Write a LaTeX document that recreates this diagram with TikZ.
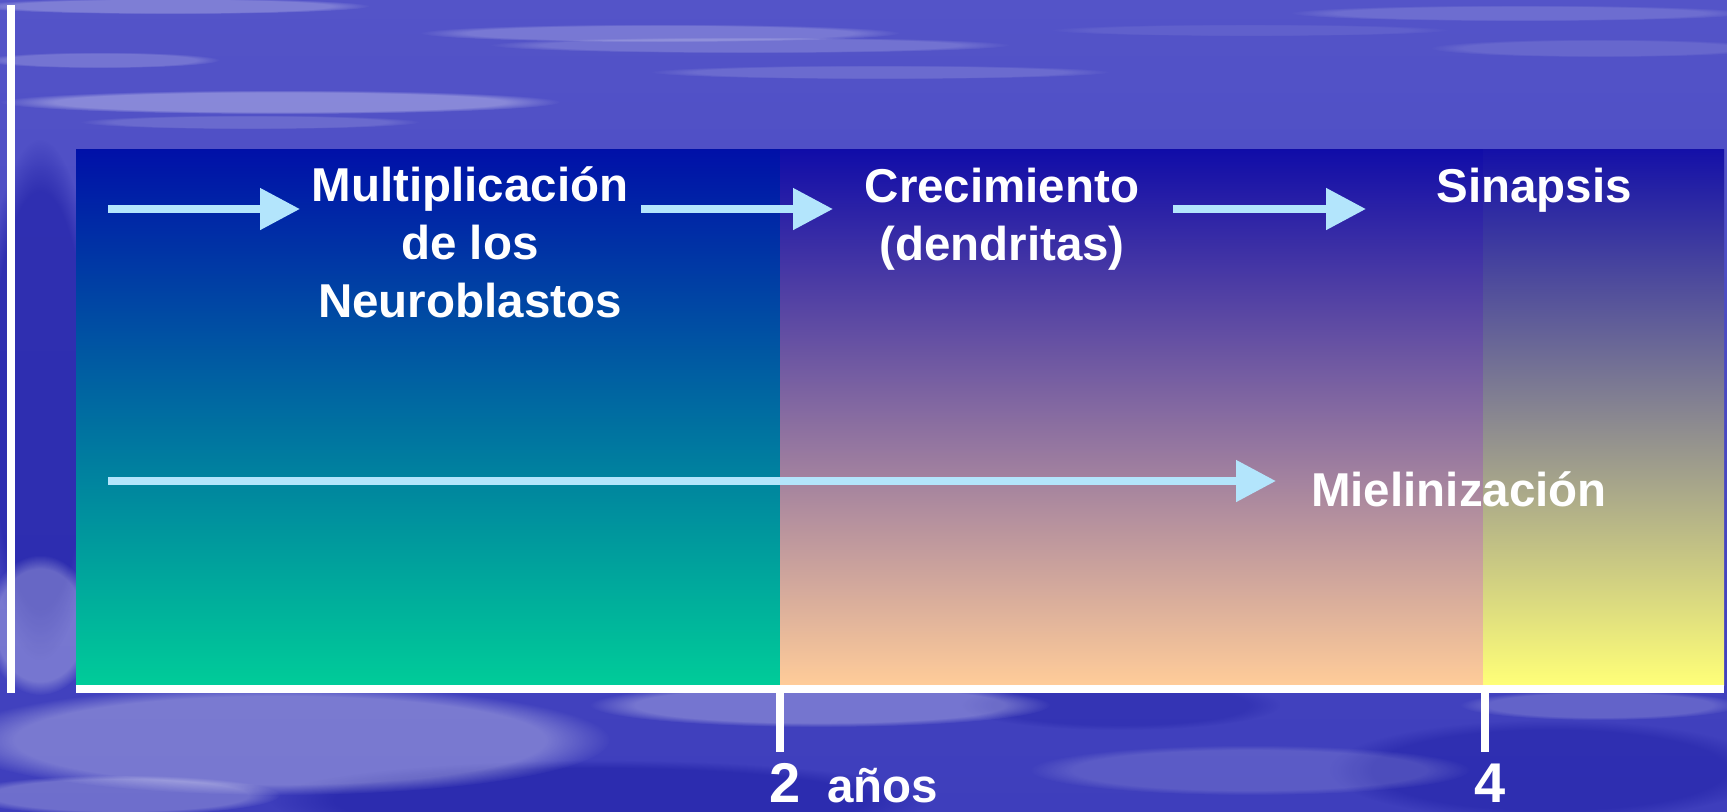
\documentclass[tikz,border=0pt]{standalone}
\usepackage{fontspec}
\setmainfont{Liberation Sans}
\usepackage{tikz}
\usetikzlibrary{calc,shapes,arrows.meta,fadings}

\definecolor{fondo}{RGB}{62,62,188}
\definecolor{fondoclaro}{RGB}{84,84,200}
\definecolor{fondooscuro}{RGB}{40,40,172}
\definecolor{celeste}{RGB}{179,229,252}

\tikzset{
  flecha/.style={draw=celeste, line width=4pt, -{Triangle[length=20pt,width=20pt]}},
  rotulo/.style={text=white, font=\bfseries\fontsize{23.75}{28.9}\selectfont, align=center, inner sep=0pt},
  cifra/.style={text=white, font=\bfseries\fontsize{28}{32}\selectfont, inner sep=0pt},
  linea/.style={draw=white, line width=4pt},
  nube/.style={fill=white, path fading=circle with fuzzy edge 20 percent},
  sombra/.style={fill=fondooscuro, path fading=circle with fuzzy edge 20 percent},
}

\begin{document}
\begin{tikzpicture}[x=0.5pt,y=-0.5pt]
        \useasboundingbox (0,0) rectangle (1727,811);
        % fondo
        \shade[top color=fondoclaro, middle color=fondo, bottom color=fondo] (0,0) rectangle (1727,811);
        \foreach \cx/\cy/\rx/\ry/\op in {40/400/60/260/0.8, 600/800/330/40/0.8, 1550/770/220/50/0.7,
            1120/705/160/25/0.5}
        \fill[sombra, opacity=\op] (\cx,\cy) ellipse ({\rx*0.5pt} and {\ry*0.5pt});
        \foreach \cx/\cy/\rx/\ry/\op in {170/6/200/8/0.25, 660/33/240/9/0.22, 280/102/280/12/0.32,
            750/45/260/8/0.18, 880/72/230/7/0.15, 1520/13/230/8/0.15, 1600/48/170/9/0.12,
            100/60/120/8/0.2, 250/122/170/7/0.15, 1250/30/200/6/0.08,
            280/740/330/55/0.3, 120/795/160/20/0.25, 820/705/230/22/0.28, 40/625/55/70/0.28,
            1250/770/220/25/0.15, 1600/705/140/15/0.18}
        \fill[nube, opacity=\op] (\cx,\cy) ellipse ({\rx*0.5pt} and {\ry*0.5pt});
        % bloques
        \shade[top color={rgb,255:red,0;green,16;blue,168}, middle color={rgb,255:red,0;green,160;blue,158},
            bottom color={rgb,255:red,0;green,204;blue,153}] (76,149) rectangle (780,685);
        \shade[top color={rgb,255:red,16;green,12;blue,168}, middle color={rgb,255:red,190;green,150;blue,156},
            bottom color={rgb,255:red,255;green,204;blue,153}] (780,149) rectangle (1483,685);
        \shade[top color={rgb,255:red,20;green,16;blue,168}, middle color={rgb,255:red,188;green,186;blue,142},
            bottom color={rgb,255:red,255;green,255;blue,120}] (1483,149) rectangle (1724,685);
        % ejes
        \draw[linea] (11,5) -- (11,693);
        \draw[linea] (76,689) -- (1724,689);
        \foreach \x in {780,1485}
        \draw[linea] (\x,693) -- (\x,752);
        % textos
        \node[rotulo, anchor=base] (mult) at (470,317) {Multiplicación\\de los\\Neuroblastos};
        \node[rotulo, anchor=base] (crec) at (1002,260) {Crecimiento\\(dendritas)};
        \node[rotulo, anchor=base] (sina) at (1534,202) {Sinapsis};
        \node[rotulo, anchor=base] (miel) at (1459,506) {Mielinización};
        \node[cifra, anchor=base] (dos) at (785,802) {2};
        \node[rotulo, anchor=base west] (anos) at (827,802) {años};
        \node[cifra, anchor=base] (cuatro) at (1490,802) {4};
        % flechas
        \coordinate (f1a) at (108,209);
        \coordinate (f1b) at (300,209);
        \coordinate (f2a) at (641,209);
        \coordinate (f2b) at (833,209);
        \coordinate (f3a) at (1173,209);
        \coordinate (f3b) at (1366,209);
        \coordinate (f4a) at (108,481);
        \coordinate (f4b) at (1276,481);
        \draw[flecha] (f1a) -- (f1b);
        \draw[flecha] (f2a) -- (f2b);
        \draw[flecha] (f3a) -- (f3b);
        \draw[flecha] (f4a) -- (f4b);
    \end{tikzpicture}
\end{document}
